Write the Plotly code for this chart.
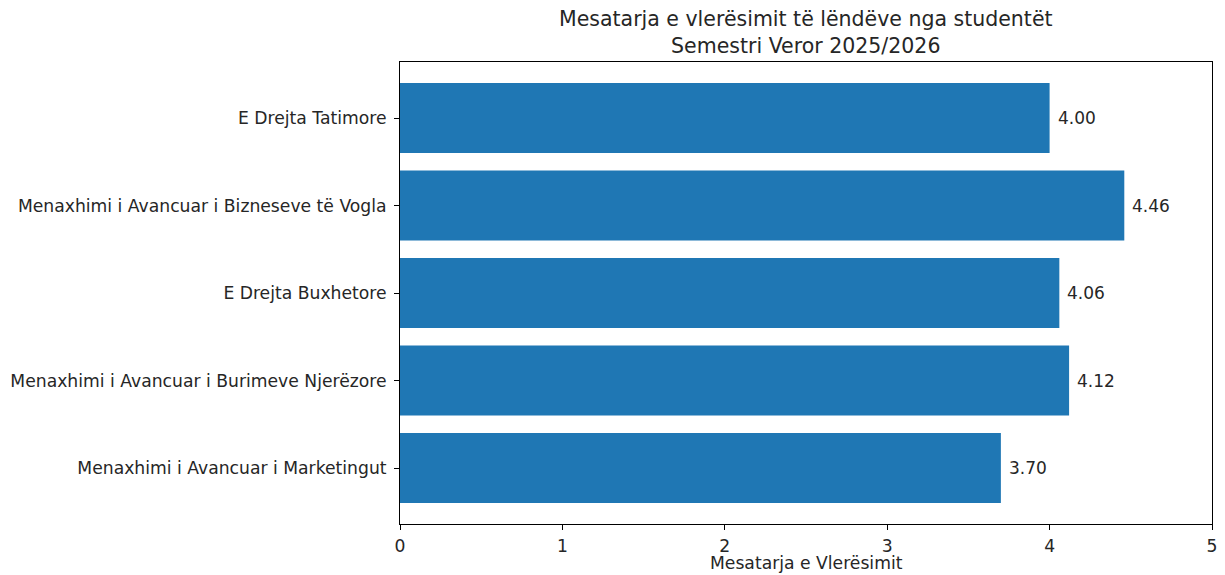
import plotly.graph_objects as go

courses = [
    "Menaxhimi i Avancuar i Marketingut",
    "Menaxhimi i Avancuar i Burimeve Njerëzore",
    "E Drejta Buxhetore",
    "Menaxhimi i Avancuar i Bizneseve të Vogla",
    "E Drejta Tatimore",
]
means = [3.70, 4.12, 4.06, 4.46, 4.00]
x_ticks = [0, 1, 2, 3, 4, 5]
title_lines = ["Mesatarja e vlerësimit të lëndëve nga studentët", "Semestri Veror 2025/2026"]
x_title = "Mesatarja e Vlerësimit"

FONT = "DejaVu Sans"
fig = go.Figure()
fig.add_trace(go.Bar(
    x=means, y=courses, orientation="h",
    marker=dict(color="#1f77b4", line=dict(width=0)),
    width=0.8,
))
for c, v in zip(courses, means):
    fig.add_annotation(x=v, y=c, text=f"{v:.2f}", showarrow=False,
                       xanchor="left", xshift=6, font=dict(family=FONT, size=17, color="#262626"))

fig.add_annotation(x=0.5, y=1, xref="paper", yref="paper", xanchor="center", yanchor="bottom",
                   yshift=2, showarrow=False, text="<br>".join(title_lines),
                   font=dict(family=FONT, size=20.5, color="#262626"))
fig.add_annotation(x=0.5, y=0, xref="paper", yref="paper", xanchor="center", yanchor="top",
                   yshift=-28, showarrow=False, text=x_title, borderpad=0,
                   font=dict(family=FONT, size=17.2, color="#262626"))

fig.update_layout(
    width=1225, height=575,
    margin=dict(l=400, r=13, t=62, b=51),
    plot_bgcolor="white", paper_bgcolor="white",
    showlegend=False,
    font=dict(family=FONT, size=17.2, color="#262626"),
)
fig.update_xaxes(
    range=[0, 5], tickvals=x_ticks, ticks="outside", ticklen=5, tickcolor="black",
    ticklabelstandoff=1, automargin=False,
    showline=True, linecolor="black", linewidth=1, mirror=True, showgrid=False, zeroline=False,
)
fig.update_yaxes(
    categoryorder="array", categoryarray=courses, range=[-0.64, 4.64],
    ticks="outside", ticklen=5, tickcolor="black", ticklabelstandoff=4, automargin=False,
    showline=True, linecolor="black", linewidth=1, mirror=True, showgrid=False, zeroline=False,
)
fig.write_html("out.html", config={"displayModeBar": False},
               post_script="document.body.style.margin='0';")
